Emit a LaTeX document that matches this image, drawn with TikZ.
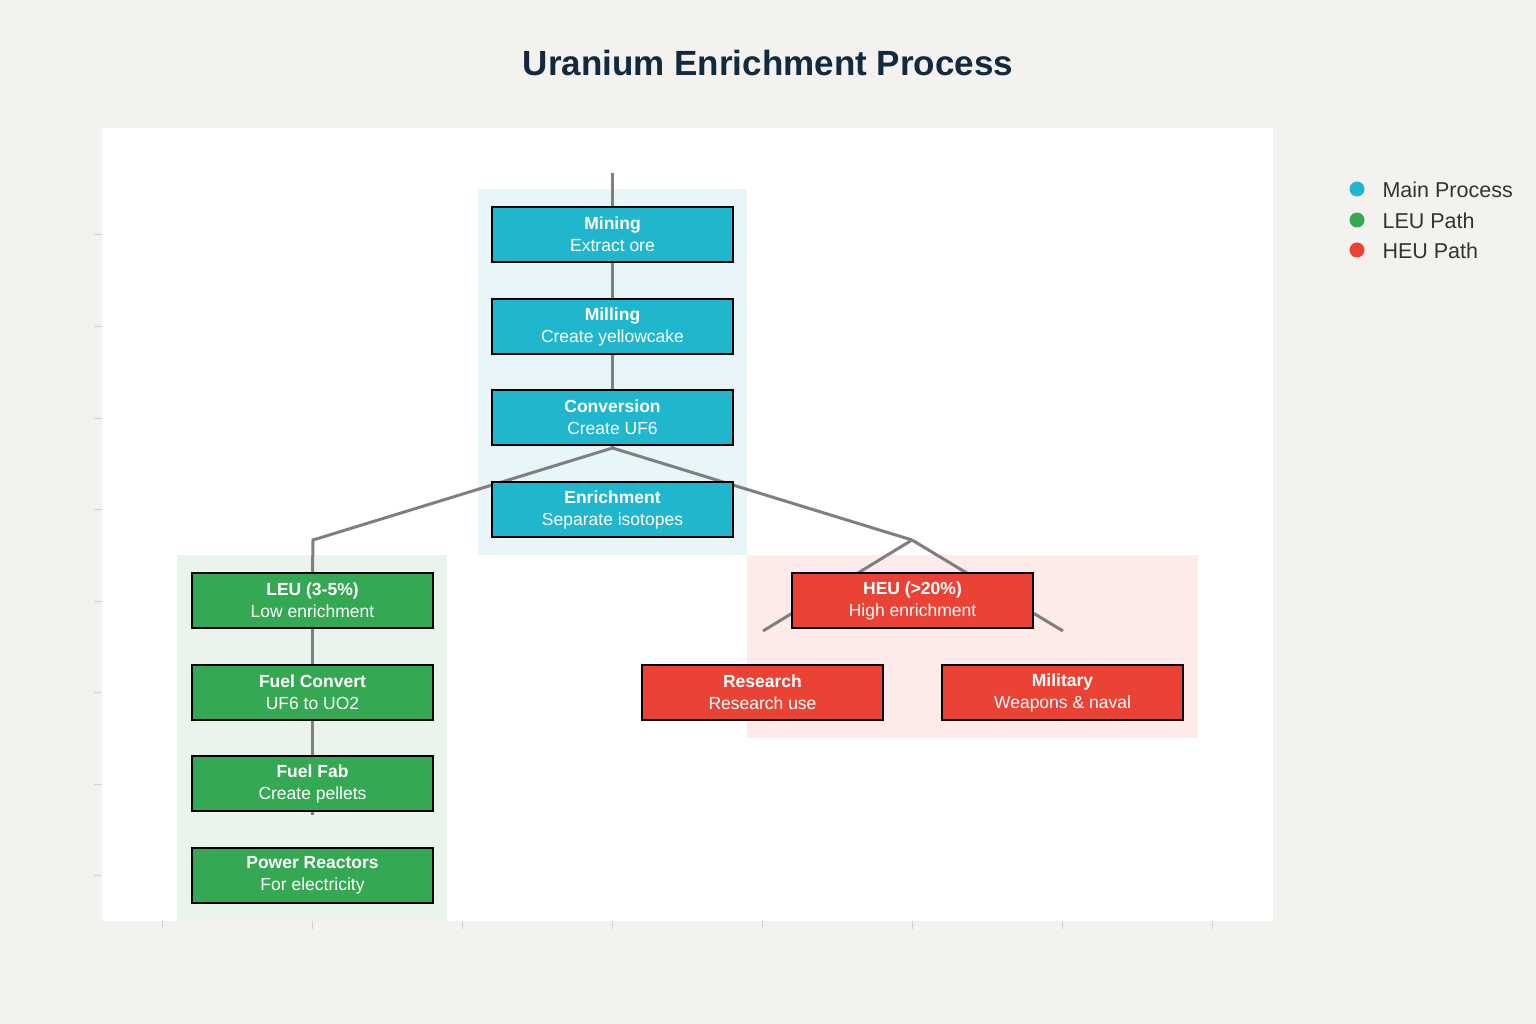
\documentclass[tikz,border=0pt]{standalone}
\usepackage{fontspec}
\setmainfont{Liberation Sans}
\definecolor{bgc}{HTML}{F3F2EE}
\definecolor{mainc}{HTML}{20B6CE}
\definecolor{leuc}{HTML}{34A852}
\definecolor{heuc}{HTML}{EA4336}
\definecolor{mainr}{HTML}{E8F6FA}
\definecolor{leur}{HTML}{EAF4EC}
\definecolor{heur}{HTML}{FDEBEA}
\definecolor{linec}{HTML}{7F7F7F}
\definecolor{titlec}{HTML}{13293D}
\definecolor{tickc}{HTML}{D0D0D0}
\pgfdeclarelayer{paper}
\pgfdeclarelayer{regions}
\pgfdeclarelayer{links}
\pgfsetlayers{paper,regions,links,main}
\tikzset{
  stepbox/.style={draw=black, line width=1.6pt, minimum width=241pt, minimum height=55pt,
    inner sep=0pt, text=white, align=center, font=\fontsize{17.5}{22}\selectfont},
  mainbox/.style={stepbox, fill=mainc},
  leubox/.style={stepbox, fill=leuc},
  heubox/.style={stepbox, fill=heuc},
  link/.style={draw=linec, line width=3pt},
  tick/.style={draw=tickc, line width=1pt},
  legdot/.style={circle, inner sep=0pt, minimum size=15pt},
  legtext/.style={anchor=west, text=black!80, font=\fontsize{21.5}{24}\selectfont}
}
\newcommand{\bt}[2]{\textbf{#1}\\#2}
\begin{document}
\begin{tikzpicture}[x=1pt,y=-1pt]
\useasboundingbox (0,0) rectangle (1536,1024);
\begin{pgfonlayer}{paper}
\fill[bgc] (0,0) rectangle (1536,1024);
\fill[white] (102,128) rectangle (1273,921);
\foreach \yy in {235,326,418,509,601,692,784,875} \draw[tick] (94,\yy) -- (102,\yy);
\foreach \xx in {162,312,462,612,762,912,1062,1212} \draw[tick] (\xx,921) -- (\xx,929);
\end{pgfonlayer}
% title
\node[font=\fontsize{35}{40}\selectfont\bfseries, text=titlec] (title) at (768,63) {Uranium Enrichment Process};
% regions
\begin{pgfonlayer}{regions}
\fill[mainr] (478,189) rectangle (747,555);
\fill[leur] (177,555) rectangle (447,921);
\fill[heur] (747,555) rectangle (1198,738);
\end{pgfonlayer}
% boxes
\node[mainbox] (mining) at (612.5,234.5) {\bt{Mining}{Extract ore}};
\node[mainbox] (milling) at (612.5,326.5) {\bt{Milling}{Create yellowcake}};
\node[mainbox] (conv) at (612.5,417.5) {\bt{Conversion}{Create UF6}};
\node[mainbox] (enrich) at (612.5,509.5) {\bt{Enrichment}{Separate isotopes}};
\node[leubox] (leu) at (312.5,600.5) {\bt{LEU (3-5\%)}{Low enrichment}};
\node[leubox] (fconv) at (312.5,692.5) {\bt{Fuel Convert}{UF6 to UO2}};
\node[leubox] (ffab) at (312.5,783.5) {\bt{Fuel Fab}{Create pellets}};
\node[leubox] (power) at (312.5,875.5) {\bt{Power Reactors}{For electricity}};
\node[heubox] (heu) at (912.5,600.5) {\bt{HEU (>20\%)}{High enrichment}};
\node[heubox] (research) at (762.5,692.5) {\bt{Research}{Research use}};
\node[heubox] (military) at (1062.5,692.5) {\bt{Military}{Weapons \& naval}};
% connector points
\coordinate (top) at (612.5,173);
\coordinate (split) at (612.5,448);
\coordinate (jL) at (313,540);
\coordinate (jR) at (912,540);
\coordinate (rs) at (763,631);
\coordinate (ms) at (1063,631);
\coordinate (fend) at (312.5,815);
\begin{pgfonlayer}{links}
\draw[link] (top) -- (mining.north);
\draw[link] (mining) -- (milling);
\draw[link] (milling) -- (conv);
\draw[link] (conv.south) -- (split);
\draw[link] (split) -- (jL) -- (leu.north);
\draw[link] (split) -- (jR);
\draw[link] (leu) -- (fconv);
\draw[link] (fconv) -- (ffab);
\draw[link] (ffab) -- (fend);
\draw[link] (jR) -- (rs);
\draw[link] (jR) -- (ms);
\end{pgfonlayer}
% legend
\node[legdot, fill=mainc] (d1) at (1357,189) {};
\node[legdot, fill=leuc] (d2) at (1357,220) {};
\node[legdot, fill=heuc] (d3) at (1357,250) {};
\node[legtext] (l1) at (1379,190) {Main Process};
\node[legtext] (l2) at (1379,221) {LEU Path};
\node[legtext] (l3) at (1379,251) {HEU Path};
\end{tikzpicture}
\end{document}
